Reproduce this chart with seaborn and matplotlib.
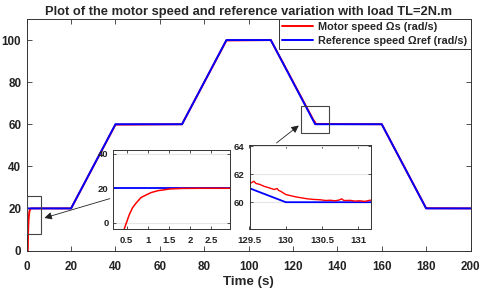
import numpy as np
import pandas as pd
import matplotlib
matplotlib.use("Agg")
import matplotlib.pyplot as plt
from matplotlib.patches import Rectangle
import seaborn as sns

sns.set_style("ticks")
plt.rcParams['font.family'] = ['Liberation Sans', 'DejaVu Sans']
plt.rcParams['font.weight'] = 'bold'

# reference speed profile (rad/s) vs time (s)
ref_t = [0, 20, 40, 70, 90, 110, 129.5, 130, 160, 180, 200]
ref_w = [20, 20, 60, 60, 100, 100, 61.0, 60, 60, 20, 20]

# motor speed (start-up + zoom around 130 s)
mot_t = [0.40, 0.44, 0.49, 0.56, 0.64, 0.72, 0.84, 0.96, 1.08, 1.24, 1.36, 1.52, 1.8, 2.2,
         20, 40, 70, 90, 110,
         129.52, 129.56, 129.59, 129.64, 129.70, 129.77, 129.84, 129.88, 129.90, 129.93,
         130.0, 130.08, 130.16, 130.23, 130.30, 130.38, 130.48, 130.55, 130.61,
         130.68, 130.74, 130.77, 130.80, 130.89, 130.95, 131.02, 131.09, 131.16, 160, 180, 200]
mot_w = [-6.5, -3.8, -0.4, 4.5, 8.7, 11.3, 14.6, 16.1, 17.5, 18.6, 19.0, 19.6, 19.9, 20.0,
         20.0, 59.8, 60.0, 99.8, 100.0,
         61.38, 61.50, 61.34, 61.28, 61.14, 61.03, 60.91, 60.98, 60.85, 60.78,
         60.55, 60.45, 60.36, 60.30, 60.24, 60.20, 60.17, 60.12, 60.14,
         60.10, 60.16, 60.24, 60.12, 60.13, 60.08, 60.10, 60.06, 60.14, 60.0, 20.1, 20.0]

ref = pd.DataFrame({"t": ref_t, "w": ref_w})
mot = pd.DataFrame({"t": mot_t, "w": mot_w})

W, H = 480, 293
fig = plt.figure(figsize=(4.8, 2.93), dpi=100)


def box(l, t, r, b):
    return [l / W, (H - b) / H, (r - l) / W, (b - t) / H]


def style(a, size, length, pad):
    for s in a.spines.values():
        s.set_color('#333333')
        s.set_linewidth(0.7)
        s.set_visible(True)
    a.tick_params(direction='in', top=True, right=True, length=length, width=0.6,
                  colors='#333333', labelcolor='#222222', labelsize=size, pad=pad)
    for lab in a.get_xticklabels() + a.get_yticklabels():
        lab.set_fontweight('bold')
    a.set_xlabel('')
    a.set_ylabel('')


ax = fig.add_axes(box(26.7, 19, 470.5, 250.5))
sns.lineplot(data=mot, x="t", y="w", ax=ax, color=(1, 0, 0), lw=1.4,
             estimator=None, sort=False, label="Motor speed \u03a9s (rad/s)")
sns.lineplot(data=ref, x="t", y="w", ax=ax, color=(0, 0, 1), lw=1.4,
             estimator=None, sort=False, label="Reference speed \u03a9ref (rad/s)")
ax.set_xlim(0, 200)
ax.set_ylim(0, 110)
ax.set_xticks(range(0, 201, 20))
ax.set_yticks(range(0, 101, 20))
style(ax, 8.4, 3.6, 7.5)
ax.tick_params(axis='y', pad=4)
ax.set_xlabel("Time (s)", fontsize=9.6, fontweight='bold', labelpad=2)
ax.set_title("Plot of the motor speed and reference variation with load TL=2N.m",
             fontsize=9.3, fontweight='bold', pad=3)
leg = ax.legend(loc='upper right', borderaxespad=0, fancybox=False, framealpha=1,
                edgecolor='#333333', fontsize=7.8, handlelength=2.8, borderpad=0.3,
                labelspacing=0.35, handletextpad=0.5)
leg.get_frame().set_linewidth(0.7)
for txt in leg.get_texts():
    txt.set_fontweight('bold')

# zoom boxes and arrows
ax.add_patch(Rectangle((0, 8.0), 6.3, 18.0, fill=False, ec='#444444', lw=0.8, zorder=5))
ax.add_patch(Rectangle((123.6, 55.6), 12.7, 13.0, fill=False, ec='#444444', lw=0.8, zorder=5))
ax.annotate("", xy=(6.75, 15.1), xytext=(38.6, 25.0),
            arrowprops=dict(arrowstyle='-|>', color='#222222', lw=0.6, mutation_scale=11))
ax.annotate("", xy=(123.6, 60.2), xytext=(111.6, 50.3),
            arrowprops=dict(arrowstyle='-|>', color='#222222', lw=0.6, mutation_scale=11))

# inset 1: start-up
ax1 = fig.add_axes(box(112.7, 150, 230, 229.3))
sns.lineplot(data=ref, x="t", y="w", ax=ax1, color=(0, 0, 1), lw=1.3, estimator=None, sort=False)
sns.lineplot(data=mot, x="t", y="w", ax=ax1, color=(1, 0, 0), lw=1.1, estimator=None, sort=False)
ax1.set_xlim(0.17, 2.95)
ax1.set_ylim(-3.8, 42.2)
ax1.set_xticks([0.5, 1, 1.5, 2, 2.5])
ax1.set_xticklabels(["0.5", "1", "1.5", "2", "2.5"])
ax1.set_yticks([0, 20, 40])
ax1.yaxis.grid(True, color='#e6e6e6', lw=0.8)
ax1.set_axisbelow(True)
style(ax1, 6.8, 2.2, 3)
ax1.tick_params(axis='x', pad=5)

# inset 2: around 130 s
ax2 = fig.add_axes(box(249.5, 145, 370.7, 228.7))
sns.lineplot(data=ref, x="t", y="w", ax=ax2, color=(0, 0, 1), lw=1.3, estimator=None, sort=False)
sns.lineplot(data=mot, x="t", y="w", ax=ax2, color=(1, 0, 0), lw=1.0, estimator=None, sort=False)
ax2.set_xlim(129.5, 131.17)
ax2.set_ylim(58.1, 64.1)
ax2.set_xticks([129.5, 130, 130.5, 131])
ax2.set_xticklabels(["129.5", "130", "130.5", "131"])
ax2.set_yticks([60, 62, 64])
ax2.yaxis.grid(True, color='#e6e6e6', lw=0.8)
ax2.set_axisbelow(True)
style(ax2, 6.8, 2.2, 3)
ax2.tick_params(axis='x', pad=5)
ax2.tick_params(axis='y', pad=4)

fig.savefig("out.png", dpi=100)
